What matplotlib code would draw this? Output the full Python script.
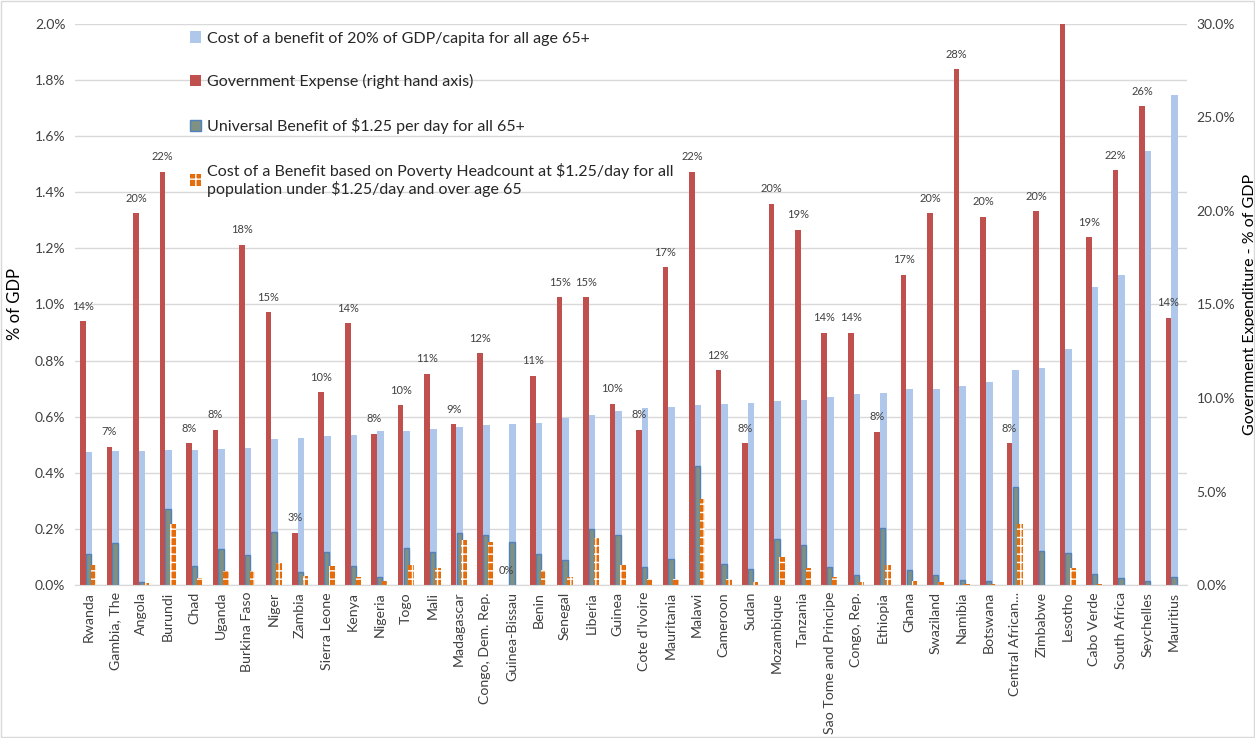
import numpy as np
import matplotlib
matplotlib.use('Agg')
import matplotlib.pyplot as plt
from matplotlib.patches import Patch, Rectangle
from matplotlib.ticker import FuncFormatter, MultipleLocator

plt.rcParams['font.family'] = ['Lato', 'DejaVu Sans']
plt.rcParams['hatch.linewidth'] = 1.0

# Data
countries = ['Rwanda', 'Gambia, The', 'Angola', 'Burundi', 'Chad', 'Uganda', 'Burkina Faso',
             'Niger', 'Zambia', 'Sierra Leone', 'Kenya', 'Nigeria', 'Togo', 'Mali',
             'Madagascar', 'Congo, Dem. Rep.', 'Guinea-Bissau', 'Benin', 'Senegal', 'Liberia',
             'Guinea', "Cote d'Ivoire", 'Mauritania', 'Malawi', 'Cameroon', 'Sudan',
             'Mozambique', 'Tanzania', 'Sao Tome and Principe', 'Congo, Rep.', 'Ethiopia',
             'Ghana', 'Swaziland', 'Namibia', 'Botswana', 'Central African...', 'Zimbabwe',
             'Lesotho', 'Cabo Verde', 'South Africa', 'Seychelles', 'Mauritius']

# % of GDP, left axis
cost_20pct = [0.473, 0.476, 0.479, 0.480, 0.481, 0.484, 0.488, 0.522, 0.523, 0.532, 0.535,
              0.548, 0.550, 0.555, 0.562, 0.572, 0.575, 0.578, 0.597, 0.605, 0.620, 0.632,
              0.635, 0.640, 0.645, 0.648, 0.655, 0.660, 0.672, 0.680, 0.685, 0.697, 0.700,
              0.710, 0.725, 0.768, 0.772, 0.840, 1.063, 1.104, 1.548, 1.748]
universal = [0.112, 0.148, 0.012, 0.271, 0.069, 0.129, 0.108, 0.189, 0.045, 0.119, 0.067,
             0.028, 0.131, 0.119, 0.185, 0.178, 0.154, 0.109, 0.088, 0.201, 0.179, 0.063,
             0.091, 0.423, 0.075, 0.056, 0.164, 0.144, 0.064, 0.035, 0.205, 0.055, 0.034,
             0.017, 0.013, 0.351, 0.121, 0.113, 0.041, 0.025, 0.013, 0.028]
poverty = [0.070, 0.0, 0.006, 0.219, 0.026, 0.049, 0.049, 0.078, 0.032, 0.067, 0.029,
           0.016, 0.070, 0.061, 0.161, 0.154, 0.0, 0.055, 0.029, 0.167, 0.073, 0.021,
           0.021, 0.306, 0.020, 0.012, 0.099, 0.062, 0.027, 0.012, 0.073, 0.014, 0.011,
           0.004, 0.002, 0.218, 0.0, 0.060, 0.005, 0.0, 0.0, 0.0]
# Government expense, % of GDP, right axis (Lesotho runs off the top of the axis)
gov_expense = [14.1, 7.4, 19.9, 22.1, 7.6, 8.3, 18.2, 14.6, 2.8, 10.3, 14.0, 8.1, 9.6, 11.3,
               8.6, 12.4, 0.0, 11.2, 15.4, 15.4, 9.7, 8.3, 17.0, 22.1, 11.5, 7.6, 20.4, 19.0,
               13.5, 13.5, 8.2, 16.6, 19.9, 27.6, 19.7, 7.6, 20.0, 31.0, 18.6, 22.2, 25.6, 14.3]

x = np.arange(len(countries))

fig = plt.figure(figsize=(12.55, 7.38), dpi=100)
ax = fig.add_axes([0.0598, 0.2073, 0.886, 0.7602])
ax2 = ax.twinx()

blue = '#AEC7EB'
red = '#C0504D'
teal = '#7F9182'
orange = '#E46C0A'

ax.bar(x + 0.03, cost_20pct, width=0.25, color=blue, zorder=2)
ax.bar(x + 0.01, universal, width=0.2, color=teal, edgecolor='#4F81BD', linewidth=1.0, zorder=3)
ax.bar(x + 0.2, poverty, width=0.21, color=orange, edgecolor='white', hatch='++',
       linewidth=0, zorder=4)
ax2.bar(x - 0.2, gov_expense, width=0.21, color=red, zorder=2)

# data labels on the red bars (the one above the axis top is cut off, as in the source)
for xi, v in zip(x, gov_expense):
    if v <= 30:
        ax2.text(xi - 0.2, v + 0.5, f'{v:.0f}%', ha='center', va='bottom', fontsize=8,
                 color='#404040')

ax.set_xlim(-0.5, len(countries) - 0.5)
ax.set_ylim(0, 2.0)
ax2.set_ylim(0, 30)
ax.yaxis.set_major_locator(MultipleLocator(0.2))
ax2.yaxis.set_major_locator(MultipleLocator(5))
ax.yaxis.set_major_formatter(FuncFormatter(lambda v, p: f'{v:.1f}%'))
ax2.yaxis.set_major_formatter(FuncFormatter(lambda v, p: f'{v:.1f}%'))
ax.grid(axis='y', color='#D9D9D9', linewidth=1, zorder=0)
ax.set_axisbelow(True)

ax.set_xticks(x)
ax.set_xticklabels(countries, rotation=90, fontsize=10.2)
ax.tick_params(axis='y', length=0, labelsize=10, colors='#404040', pad=7)
ax.tick_params(axis='x', length=0, colors='#404040', pad=5)
ax2.tick_params(axis='y', length=0, labelsize=10, colors='#404040', pad=7)
for a in (ax, ax2):
    for s in ['top', 'left', 'right']:
        a.spines[s].set_visible(False)
    a.spines['bottom'].set_color('#D9D9D9')
ax.set_ylabel('% of GDP', fontsize=12)
ax2.set_ylabel('Government Expenditure - % of GDP', fontsize=11.5)
ax.yaxis.set_label_coords(-0.047, 0.5)
ax2.yaxis.set_label_coords(1.05, 0.5)

handles = [Patch(facecolor=blue),
           Patch(facecolor=red),
           Patch(facecolor=teal, edgecolor='#4F81BD'),
           Patch(facecolor=orange, edgecolor='white', hatch='++', linewidth=0)]
labels = ['Cost of a benefit of 20% of GDP/capita for all age 65+',
          'Government Expense (right hand axis)',
          'Universal Benefit of $1.25 per day for all 65+',
          'Cost of a Benefit based on Poverty Headcount at $1.25/day for all\n'
          'population under $1.25/day and over age 65']
fig.legend(handles, labels, loc='upper left', bbox_to_anchor=(0.14, 0.977),
           frameon=False, fontsize=11.5, handlelength=0.7, handleheight=0.7,
           handletextpad=0.35, labelspacing=1.8, labelcolor='#262626')

fig.patches.append(Rectangle((0.001, 0.001), 0.998, 0.998, transform=fig.transFigure,
                             fill=False, edgecolor='#D9D9D9', linewidth=1))

fig.savefig('out.png', dpi=100)
